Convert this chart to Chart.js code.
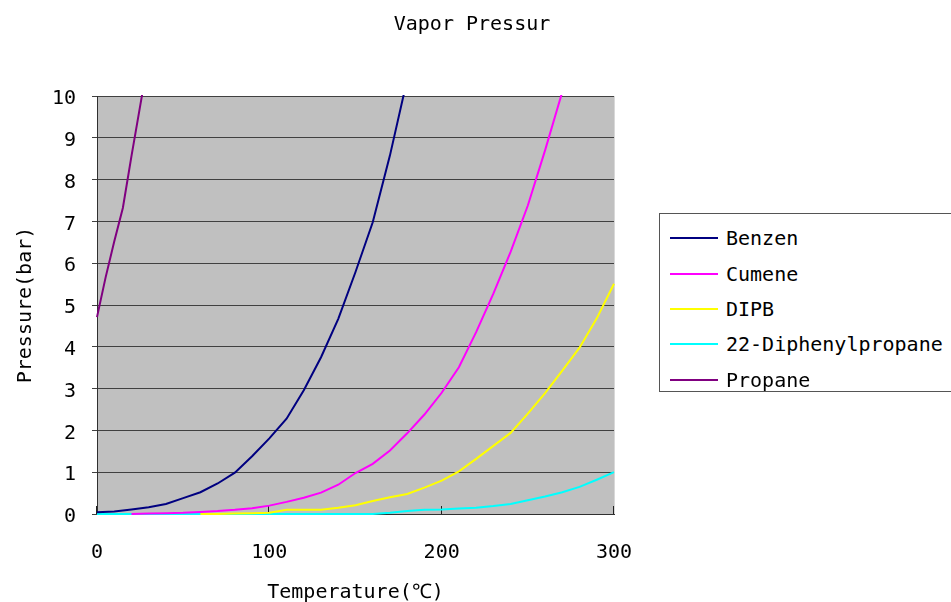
<!DOCTYPE html>
<html>
<head>
<meta charset="utf-8">
<script src="https://cdn.jsdelivr.net/npm/chart.js@4"></script>
<style>
  html, body { margin: 0; padding: 0; background: #fff; }
  #wrap { position: relative; width: 951px; height: 602px; overflow: hidden; background: #fff; }
  #c { position: absolute; left: 0; top: 0; }
  .txt { font-family: "DejaVu Sans Mono", "Liberation Mono", monospace; font-size: 20px; color: #000; }
  #title { position: absolute; left: 0; width: 944px; top: 10px; text-align: center; line-height: 26px; }
  #legend { position: absolute; left: 659px; top: 213px; width: 320px; height: 179px;
            border: 1px solid #555; background: #fff; box-sizing: border-box; }
  .item { position: absolute; left: 10px; height: 26px; line-height: 26px; white-space: nowrap; }
  .swatch { position: absolute; left: 0; top: 12px; width: 48px; height: 2px; }
  .label { position: absolute; left: 56px; top: 0; }
</style>
</head>
<body>
<div id="wrap">
  <canvas id="c" width="951" height="602"></canvas>
  <div id="title" class="txt">Vapor Pressur</div>
  <div id="legend" class="txt"></div>
</div>
<script>
// Vapour pressure curves, temperature in °C, pressure in bar
const benzenT = [0, 10, 20, 30, 40, 50, 60, 70, 80, 90, 100, 110, 120, 130, 140, 150, 160, 170, 180];
const benzenP = [0.04, 0.06, 0.11, 0.16, 0.24, 0.38, 0.52, 0.73, 0.99, 1.38, 1.81, 2.28, 2.96, 3.75, 4.67, 5.79, 6.98, 8.58, 10.4];

const cumeneT = [20, 30, 40, 50, 60, 70, 80, 90, 100, 110, 120, 130, 140, 150, 160, 170, 180, 190, 200, 210, 220, 230, 240, 250, 260, 270];
const cumeneP = [0.00, 0.01, 0.02, 0.03, 0.05, 0.07, 0.10, 0.14, 0.20, 0.29, 0.39, 0.51, 0.70, 0.98, 1.20, 1.52, 1.93, 2.38, 2.90, 3.51, 4.35, 5.27, 6.27, 7.38, 8.70, 10.1];

const dipbT = [60, 70, 80, 90, 100, 110, 120, 130, 140, 150, 160, 170, 180, 190, 200, 210, 220, 230, 240, 250, 260, 270, 280, 290, 300];
const dipbP = [0.00, 0.00, 0.01, 0.02, 0.03, 0.10, 0.10, 0.10, 0.15, 0.21, 0.31, 0.40, 0.48, 0.63, 0.80, 1.02, 1.32, 1.63, 1.94, 2.40, 2.89, 3.43, 3.98, 4.68, 5.51];

const dppT = [0, 10, 20, 30, 40, 50, 60, 70, 80, 90, 100, 110, 120, 130, 140, 150, 160, 170, 180, 190, 200, 210, 220, 230, 240, 250, 260, 270, 280, 290, 300];
const dppP = [0, 0, 0, 0, 0, 0, 0, 0, 0, 0, 0, 0, 0, 0, 0, 0, 0.00, 0.03, 0.07, 0.10, 0.11, 0.13, 0.15, 0.19, 0.24, 0.33, 0.42, 0.52, 0.65, 0.82, 1.00];

const propaneT = [0, 5, 10, 15, 20, 25, 30];
const propaneP = [4.71, 5.66, 6.52, 7.32, 8.56, 9.75, 10.95];

const seriesNames = ["Benzen", "Cumene", "DIPB", "22-Diphenylpropane", "Propane"];
const seriesColors = ["#000080", "#FF00FF", "#FFFF00", "#00FFFF", "#800080"];

const xTicks = [0, 100, 200, 300];
const yMin = 0, yMax = 10, yStep = 1;

const FONT = "'DejaVu Sans Mono', 'Liberation Mono', monospace";

function pairs(t, p) {
  return t.map((v, i) => ({ x: v, y: p[i] }));
}

const seriesData = [
  pairs(benzenT, benzenP),
  pairs(cumeneT, cumeneP),
  pairs(dipbT, dipbP),
  pairs(dppT, dppP),
  pairs(propaneT, propaneP)
];

const datasets = seriesNames.map((name, i) => ({
  label: name,
  data: seriesData[i],
  borderColor: seriesColors[i],
  backgroundColor: seriesColors[i],
  borderWidth: 2,
  showLine: true,
  pointRadius: 0,
  pointHoverRadius: 0,
  tension: 0,
  fill: false,
  clip: { left: 1, top: 1, right: 1, bottom: 3 }
}));

// grey plotting area
const plotBackground = {
  id: 'plotBackground',
  beforeDraw(chart) {
    const { ctx, chartArea: a } = chart;
    ctx.save();
    ctx.fillStyle = '#C0C0C0';
    ctx.fillRect(a.left, a.top, a.right - a.left, a.bottom - a.top);
    ctx.strokeStyle = '#D8D8D8';
    ctx.lineWidth = 1;
    ctx.beginPath();
    ctx.moveTo(a.right + 0.5, a.top);
    ctx.lineTo(a.right + 0.5, a.bottom);
    ctx.stroke();
    ctx.restore();
  }
};

// short tick marks pointing into the plot on the temperature axis
const innerTicks = {
  id: 'innerTicks',
  beforeDatasetsDraw(chart) {
    const { ctx, chartArea: a, scales } = chart;
    ctx.save();
    ctx.strokeStyle = '#202020';
    ctx.lineWidth = 1;
    ctx.beginPath();
    xTicks.forEach(v => {
      const px = Math.round(scales.x.getPixelForValue(v)) - 0.5;
      ctx.moveTo(px, a.bottom);
      ctx.lineTo(px, a.bottom - 8);
    });
    ctx.stroke();
    ctx.restore();
  }
};

new Chart(document.getElementById('c'), {
  type: 'scatter',
  data: { datasets },
  options: {
    responsive: false,
    animation: false,
    devicePixelRatio: 1,
    layout: { padding: { top: 96, left: 0, right: 337, bottom: 0 } },
    plugins: {
      legend: { display: false },
      title: { display: false },
      tooltip: { enabled: false }
    },
    scales: {
      x: {
        type: 'linear',
        min: xTicks[0],
        max: xTicks[xTicks.length - 1],
        afterBuildTicks(scale) { scale.ticks = xTicks.map(v => ({ value: v })); },
        grid: { display: false, drawTicks: false },
        border: { display: true, color: '#303030', width: 1 },
        ticks: { color: '#000', font: { family: FONT, size: 20 }, padding: 27, maxRotation: 0 },
        title: {
          display: true, text: 'Temperature(℃)', color: '#000',
          font: { family: FONT, size: 20 }, padding: { top: 0, bottom: -3 }
        },
        afterFit(scale) { scale.height = 88; }
      },
      y: {
        type: 'linear',
        min: yMin,
        max: yMax,
        ticks: { stepSize: yStep, color: '#000', font: { family: FONT, size: 20 }, padding: 16, labelOffset: 3 },
        grid: { color: '#404040', lineWidth: 1, drawTicks: true, tickLength: 5, tickColor: '#404040' },
        border: { display: true, color: '#303030', width: 1 },
        title: {
          display: true, text: 'Pressure(bar)', color: '#000',
          font: { family: FONT, size: 20 }, padding: { top: 14, bottom: 0 }
        },
        afterFit(scale) { scale.width = 97; }
      }
    }
  },
  plugins: [plotBackground, innerTicks]
});

// legend box built from the same series names and colours
const legend = document.getElementById('legend');
const rowTops = [11, 47, 82, 117, 153];
seriesNames.forEach((name, i) => {
  const item = document.createElement('div');
  item.className = 'item';
  item.style.top = rowTops[i] + 'px';
  const sw = document.createElement('div');
  sw.className = 'swatch';
  sw.style.background = seriesColors[i];
  const lb = document.createElement('span');
  lb.className = 'label';
  lb.textContent = name;
  item.appendChild(sw);
  item.appendChild(lb);
  legend.appendChild(item);
});
</script>
</body>
</html>
